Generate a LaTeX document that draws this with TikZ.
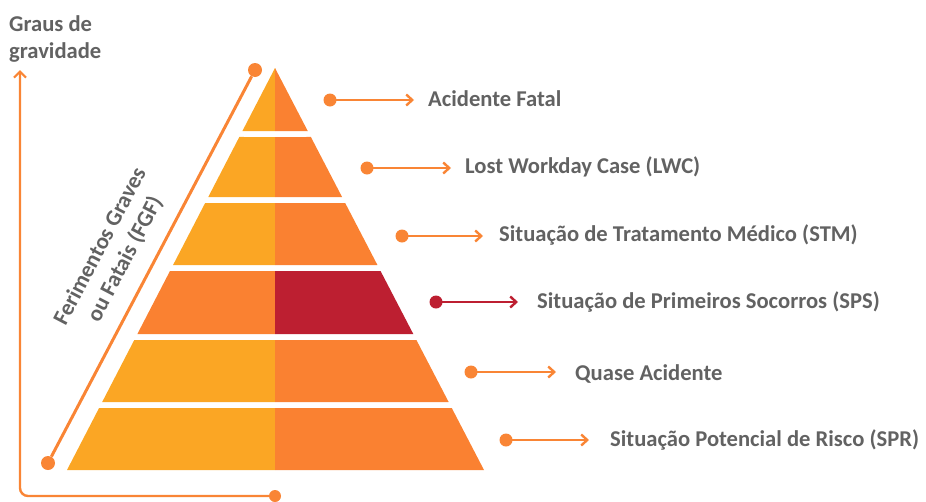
\documentclass[tikz,border=0pt]{standalone}
\usepackage{fontspec}
\setmainfont{Carlito}
\usetikzlibrary{arrows.meta,calc}
\definecolor{amber}{RGB}{251,166,36}
\definecolor{tang}{RGB}{250,129,49}
\definecolor{crimson}{RGB}{189,31,49}
\definecolor{txtgray}{RGB}{98,98,98}
\definecolor{lineor}{RGB}{249,133,53}
\tikzset{
  lbl/.style={anchor=west,inner sep=0pt,text=txtgray,font=\bfseries\fontsize{22.6}{26}\selectfont},
  dotnode/.style={circle,fill=#1,inner sep=0pt,minimum size=13pt},
  pointer/.style={draw=#1,line width=2.6pt,-{Straight Barb[length=6pt,width=11pt,line width=2.4pt]}},
}
% one horizontal band of the pyramid, split at the centre line
\newcommand{\pyrband}[4]{%
  \pgfmathsetmacro{\ta}{(#1-68)/402}\pgfmathsetmacro{\tb}{(#2-68)/402}%
  \fill[#3] ($(A)!\ta!(BL)$) -- ($(A)!\tb!(BL)$) -- (275,#2) -- (275,#1) -- cycle;
  \fill[#4] ($(A)!\ta!(BR)$) -- ($(A)!\tb!(BR)$) -- (275,#2) -- (275,#1) -- cycle;
}
\begin{document}
\begin{tikzpicture}[x=1pt,y=-1pt]
\useasboundingbox (0,0) rectangle (926,501);
\coordinate (A) at (275,68);
\coordinate (BL) at (67,470);
\coordinate (BR) at (484,470);

% pyramid bands
\pyrband{68}{131}{amber}{tang}
\pyrband{137}{197}{amber}{tang}
\pyrband{203}{265}{amber}{tang}
\pyrband{271}{334}{tang}{crimson}
\pyrband{340}{402}{amber}{tang}
\pyrband{408}{470}{amber}{tang}

% severity axis
\node[txtgray,anchor=base west,align=left,inner sep=0pt,font=\bfseries\fontsize{22.6}{27}\selectfont] (axt) at (9,58) {Graus de\\gravidade};
\node[dotnode=lineor,minimum size=12pt] (axdot) at (275,496) {};
\coordinate (axtip) at (20,70);
\draw[lineor,line width=2.4pt,rounded corners=8pt,-{Straight Barb[length=6pt,width=12pt,line width=2.2pt]}] (axdot.center) -| (axtip);

% slanted FGF line
\node[dotnode=lineor,minimum size=14pt] (ft) at (255,70) {};
\node[dotnode=lineor,minimum size=14pt] (fb) at (48,463) {};
\draw[lineor,line width=3pt] (ft) -- (fb);
\node[txtgray,align=center,rotate=62.4,inner sep=0pt,font=\bfseries\fontsize{22.6}{28}\selectfont] (fgf) at (113,253) {Ferimentos Graves\\ou Fatais (FGF)};

% level labels with pointers
\node[dotnode=lineor] (d1) at (330,100) {};
\coordinate (e1) at (414,100);
\draw[pointer=lineor] (d1.center) -- (e1);
\node[lbl] (l1) at (428,99) {Acidente Fatal};

\node[dotnode=lineor] (d2) at (367,168) {};
\coordinate (e2) at (451,168);
\draw[pointer=lineor] (d2.center) -- (e2);
\node[lbl] (l2) at (465,167) {Lost Workday Case (LWC)};

\node[dotnode=lineor] (d3) at (402,236) {};
\coordinate (e3) at (483,236);
\draw[pointer=lineor] (d3.center) -- (e3);
\node[lbl] (l3) at (499,235) {Situação de Tratamento Médico (STM)};

\node[dotnode=crimson] (d4) at (436,302) {};
\coordinate (e4) at (518,302);
\draw[pointer=crimson] (d4.center) -- (e4);
\node[lbl] (l4) at (537,302) {Situação de Primeiros Socorros (SPS)};

\node[dotnode=lineor] (d5) at (471,372) {};
\coordinate (e5) at (556,372);
\draw[pointer=lineor] (d5.center) -- (e5);
\node[lbl] (l5) at (575,374) {Quase Acidente};

\node[dotnode=lineor] (d6) at (506,440) {};
\coordinate (e6) at (589,440);
\draw[pointer=lineor] (d6.center) -- (e6);
\node[lbl] (l6) at (610,440) {Situação Potencial de Risco (SPR)};
\end{tikzpicture}
\end{document}
